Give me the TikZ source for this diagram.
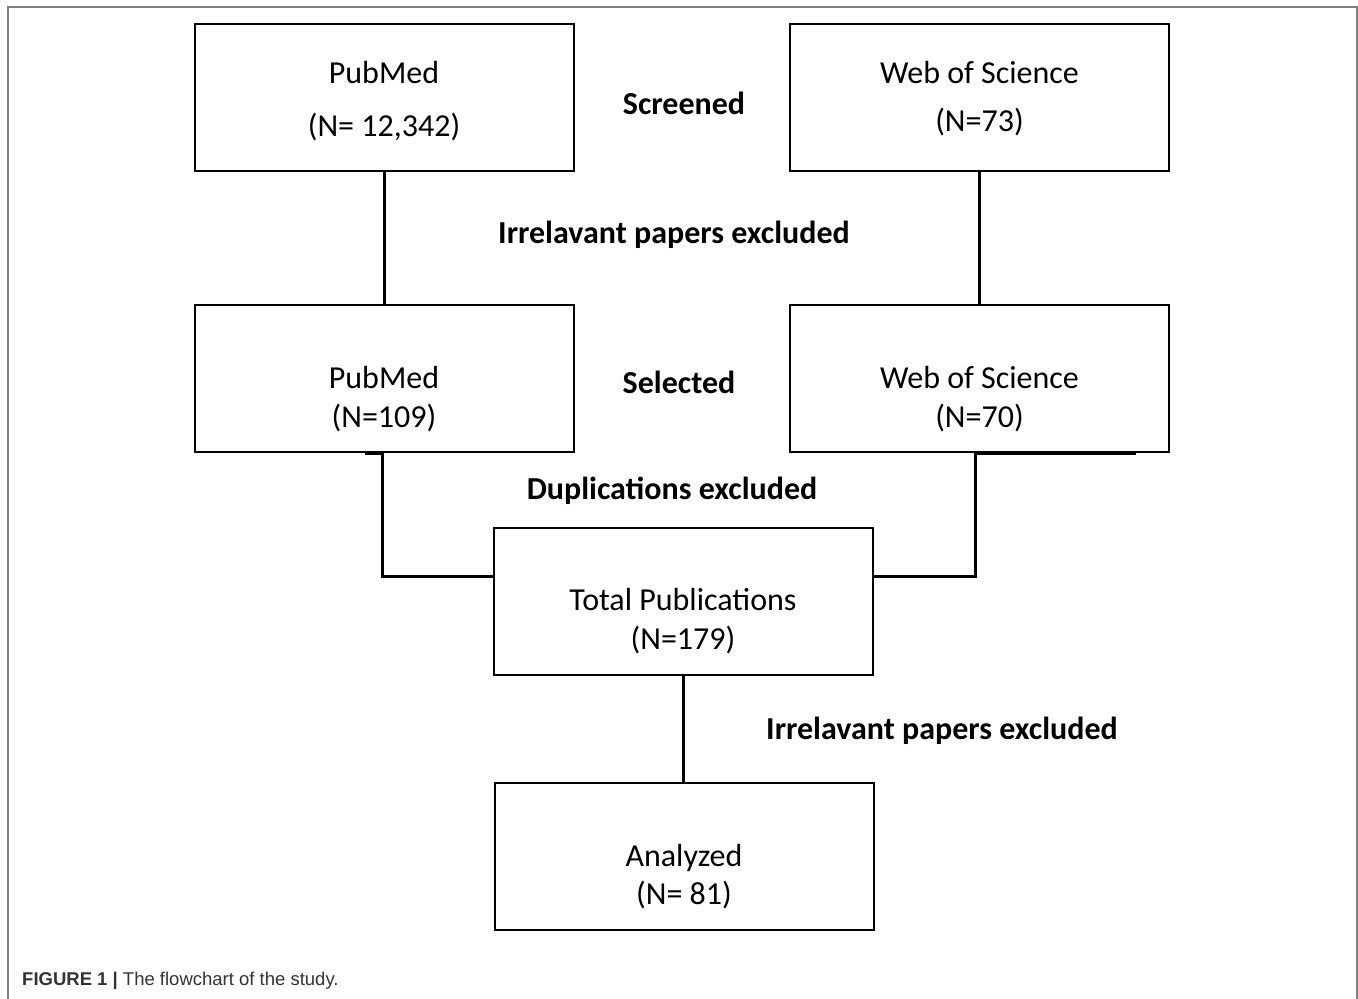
\documentclass[tikz,border=0pt]{standalone}
\usepackage{fontspec}
\setmainfont{Carlito}
\newfontfamily\capfont{Liberation Sans}
\begin{document}
\begin{tikzpicture}
		[x=1pt,y=-1pt,
			mybox/.style={draw,line width=2pt,minimum width=379pt,minimum height=147pt,inner sep=0pt},
			mytext/.style={align=center,inner sep=0pt,font=\fontsize{32}{38.4}\selectfont},
			mylabel/.style={inner sep=0pt,font=\fontsize{32}{38.4}\selectfont\bfseries},
			myline/.style={line width=3pt}]
	\useasboundingbox (0,0) rectangle (1358,999);
	\draw[gray,line width=2pt] (8,999) -- (8,7) -- (1357,7) -- (1357,999);
	\node[mybox,name=pm1] at (384,97) {};
	\node[mybox,name=wos1] at (979.5,97) {};
	\node[mybox,name=pm2] at (384,378.5) {};
	\node[mybox,name=wos2] at (979.5,378.5) {};
	\node[mybox,name=total] at (683,601.5) {};
	\node[mybox,name=analyzed] at (684,856.5) {};
	\node[mytext,name=t1] at ([yshift=-4.5]pm1.center) {PubMed\\[14.6pt](N= 12,342)};
	\node[mytext,name=t2] at ([yshift=-2]wos1.center) {Web of Science\\[9.6pt](N=73)};
	\node[mytext,name=t3] at ([yshift=-20.5]pm2.center) {PubMed\\(N=109)};
	\node[mytext,name=t4] at ([yshift=-20.5]wos2.center) {Web of Science\\(N=70)};
	\node[mytext,name=t5] at ([yshift=-19.5]total.center) {Total Publications\\(N=179)};
	\node[mytext,name=t6] at ([yshift=-20]analyzed.center) {Analyzed\\(N= 81)};
	\foreach \t/\x/\y [count=\i] in {Screened/684/103, Irrelavant papers excluded/674/235, Selected/679/382, Duplications excluded/672/491, Irrelavant papers excluded/942/731}
	{
		\node[mylabel,name=lbl\i] at (\x,\y) {\t};
	}
	\draw[myline] (pm1.south) -- (pm2.north);
	\draw[myline] (wos1.south) -- (wos2.north);
	\draw[myline] (total.south) -- (total.south |- analyzed.north);
	\draw[myline] ([xshift=-19]pm2.south) -- ([xshift=-2]pm2.south) |- ([yshift=25.5]total.west);
	\draw[myline] ([xshift=156.5]wos2.south) -- ([xshift=-4.5]wos2.south) |- ([yshift=25.5]total.east);
	\node[anchor=west,inner sep=0pt,text=black!80,font=\capfont\fontsize{18.5}{21}\selectfont,name=cap] at (22,981) {\textbf{FIGURE 1 |} The flowchart of the study.};
\end{tikzpicture}
\end{document}
